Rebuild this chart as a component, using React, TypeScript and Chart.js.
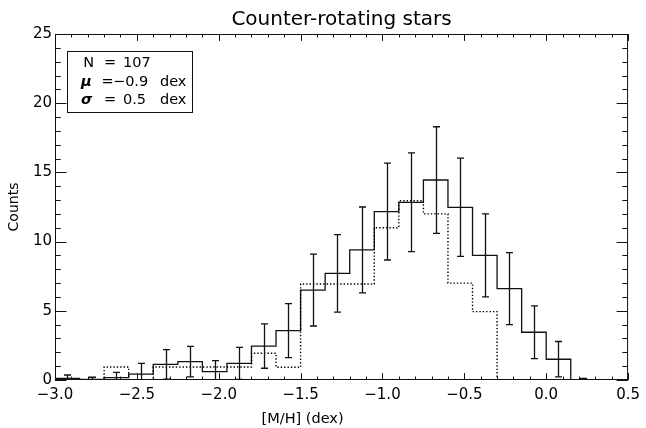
import { useEffect, useRef } from "react";
import { Chart, registerables } from "chart.js";

Chart.register(...registerables);

const chartTitle = "Counter-rotating stars";
const xAxisTitle = "[M/H] (dex)";
const yAxisTitle = "Counts";

// left edges of the histogram bins, plus the final right edge
const binEdges = [
  -3.0, -2.85, -2.7, -2.55, -2.4, -2.25, -2.1, -1.95, -1.8, -1.65, -1.5, -1.35,
  -1.2, -1.05, -0.9, -0.75, -0.6, -0.45, -0.3, -0.15, 0.0, 0.15, 0.3, 0.45,
];
const solidCounts = [
  0.12, 0.05, 0.17, 0.43, 1.13, 1.33, 0.6, 1.2, 2.45, 3.57, 6.5, 7.7, 9.4,
  12.17, 12.84, 14.45, 12.48, 9.0, 6.6, 3.45, 1.5, 0.03, 0,
];
const solidErrors = [
  0.24, 0.15, 0.38, 0.77, 1.07, 1.1, 0.8, 1.16, 1.6, 1.95, 2.6, 2.8, 3.1, 3.5,
  3.57, 3.85, 3.55, 3.0, 2.6, 1.9, 1.28, 0.08, 0,
];
const dottedCounts = [
  0, 0, 0.94, 0, 0.94, 0.94, 0.94, 0.94, 1.93, 0.92, 6.94, 6.94, 6.94, 11.0,
  12.95, 12.0, 7.0, 4.94, 0, 0, 0, 0, 0,
];

const xMin = -3.0;
const xMax = 0.5;
const xStep = 0.5;
const yMin = 0;
const yMax = 25;
const yStep = 5;

const statSymbols = ["N", "μ", "σ"];
const statValues = ["107", "−0.9", "0.5"];
const statUnits = ["", "dex", "dex"];

const FONT = "'DejaVu Sans', sans-serif";
const INK = "#111";

function toSteps(counts: number[]) {
  const pts = counts.map((c, i) => ({ x: binEdges[i], y: c }));
  pts.push({ x: binEdges[binEdges.length - 1], y: counts[counts.length - 1] });
  return pts;
}

const errorBarPlugin = {
  id: "errorBars",
  afterDatasetsDraw(chart: any) {
    const { ctx, chartArea: a, scales } = chart;
    const xs = scales.x;
    const ys = scales.y;
    ctx.save();
    ctx.beginPath();
    ctx.rect(a.left, a.top, a.right - a.left, a.bottom - a.top);
    ctx.clip();
    ctx.strokeStyle = INK;
    ctx.lineWidth = 1.3;
    const cap = 3.5;
    solidCounts.forEach((v, i) => {
      const e = solidErrors[i];
      if (!e) return;
      const cx = Math.round(xs.getPixelForValue((binEdges[i] + binEdges[i + 1]) / 2)) + 0.5;
      const yt = ys.getPixelForValue(v + e);
      const yb = ys.getPixelForValue(v - e);
      ctx.beginPath();
      ctx.moveTo(cx, yt);
      ctx.lineTo(cx, yb);
      ctx.moveTo(cx - cap, yt);
      ctx.lineTo(cx + cap, yt);
      ctx.moveTo(cx - cap, yb);
      ctx.lineTo(cx + cap, yb);
      ctx.stroke();
    });
    ctx.restore();
  },
};

const framePlugin = {
  id: "idlFrame",
  afterDraw(chart: any) {
    const { ctx, chartArea: a, scales } = chart;
    const xs = scales.x;
    const ys = scales.y;
    const w = a.right - a.left;
    const h = a.bottom - a.top;
    ctx.save();
    ctx.strokeStyle = INK;
    ctx.lineWidth = 1;
    ctx.strokeRect(a.left + 0.5, a.top + 0.5, w - 1, h - 1);

    // x ticks (bottom and top), minor every 0.1
    const xMaj = 0.02 * h;
    const nx = Math.round((xMax - xMin) / 0.1);
    ctx.beginPath();
    for (let k = 0; k <= nx; k++) {
      const v = xMin + k * 0.1;
      const len = k % 5 === 0 ? xMaj : xMaj / 2;
      const px = Math.round(xs.getPixelForValue(v)) + 0.5;
      ctx.moveTo(px, a.bottom);
      ctx.lineTo(px, a.bottom - len);
      ctx.moveTo(px, a.top);
      ctx.lineTo(px, a.top + len);
    }
    // y ticks (left and right), minor every 1
    const yMaj = 0.02 * w;
    for (let k = yMin; k <= yMax; k++) {
      const len = k % 5 === 0 ? yMaj : yMaj / 2;
      const py = Math.round(ys.getPixelForValue(k)) + 0.5;
      ctx.moveTo(a.left, py);
      ctx.lineTo(a.left + len, py);
      ctx.moveTo(a.right, py);
      ctx.lineTo(a.right - len, py);
    }
    ctx.stroke();

    // titles
    ctx.fillStyle = "#000";
    ctx.font = `20px ${FONT}`;
    ctx.textAlign = "center";
    ctx.textBaseline = "alphabetic";
    ctx.fillText(chartTitle, (a.left + a.right) / 2, 25);

    ctx.font = `14.5px ${FONT}`;
    ctx.textBaseline = "middle";
    ctx.fillText(xAxisTitle, a.left + 0.432 * w, 419);

    ctx.save();
    ctx.translate(14, (a.top + a.bottom) / 2);
    ctx.rotate(-Math.PI / 2);
    ctx.font = `14px ${FONT}`;
    ctx.fillText(yAxisTitle, 0, 0);
    ctx.restore();

    // statistics box
    const bx = a.left + 12;
    const by = a.top + 17;
    ctx.strokeRect(bx + 0.5, by + 0.5, 125, 61);
    const lineY = [by + 12.5, by + 30.8, by + 49];
    ctx.textBaseline = "middle";
    statSymbols.forEach((s, i) => {
      const yy = lineY[i];
      ctx.textAlign = "left";
      if (i === 0) {
        ctx.font = `14.5px ${FONT}`;
        ctx.fillText(s, bx + 16.3, yy);
      } else {
        ctx.font = `italic bold 14.5px ${FONT}`;
        ctx.fillText(s, bx + 14, yy);
      }
      ctx.font = `14.5px ${FONT}`;
      ctx.textAlign = "center";
      ctx.fillText("=", bx + (i === 1 ? 40.5 : 43), yy);
      ctx.textAlign = "left";
      ctx.fillText(statValues[i], bx + (i === 1 ? 46 : 56), yy);
      if (statUnits[i]) ctx.fillText(statUnits[i], bx + 93, yy);
    });
    ctx.restore();
  },
};

function fmtX(v: number) {
  const n = Math.abs(v) < 1e-9 ? 0 : v;
  return n.toFixed(1).replace("-", "−");
}

export default function App() {
  const ref = useRef<HTMLCanvasElement | null>(null);
  useEffect(() => {
    document.body.style.margin = "0";
    const canvas = ref.current;
    if (!canvas) return;
    const chart = new Chart(canvas, {
      type: "line",
      data: {
        datasets: [
          {
            label: "dotted",
            data: toSteps(dottedCounts),
            borderColor: "#000",
            borderWidth: 1.4,
            borderDash: [1.4, 2],
            pointRadius: 0,
            stepped: "before",
            fill: false,
          },
          {
            label: "solid",
            data: toSteps(solidCounts),
            borderColor: INK,
            borderWidth: 1.3,
            pointRadius: 0,
            stepped: "before",
            fill: false,
          },
        ],
      },
      options: {
        animation: false,
        responsive: false,
        devicePixelRatio: 1,
        layout: { padding: { top: 34, right: 14, left: 0, bottom: 0 } },
        plugins: {
          legend: { display: false },
          tooltip: { enabled: false },
          title: { display: false },
        },
        scales: {
          x: {
            type: "linear",
            min: xMin,
            max: xMax,
            grid: { display: false, drawTicks: false },
            border: { display: false },
            ticks: {
              stepSize: xStep,
              autoSkip: false,
              maxRotation: 0,
              padding: 6,
              color: "#000",
              font: { family: FONT, size: 15 },
              callback: (v: any) => fmtX(Number(v)),
            },
            afterFit: (s: any) => {
              s.height = 48;
            },
          },
          y: {
            type: "linear",
            min: yMin,
            max: yMax,
            grid: { display: false, drawTicks: false },
            border: { display: false },
            ticks: {
              stepSize: yStep,
              padding: 3,
              color: "#000",
              font: { family: FONT, size: 15 },
              callback: (v: any) => String(Math.round(Number(v))),
            },
            afterFit: (s: any) => {
              s.width = 55;
            },
          },
        },
      },
      plugins: [errorBarPlugin, framePlugin],
    });
    return () => chart.destroy();
  }, []);
  return (
    <div style={{ width: 646, height: 428, background: "#fff" }}>
      <canvas ref={ref} width={646} height={428} style={{ display: "block" }} />
    </div>
  );
}
